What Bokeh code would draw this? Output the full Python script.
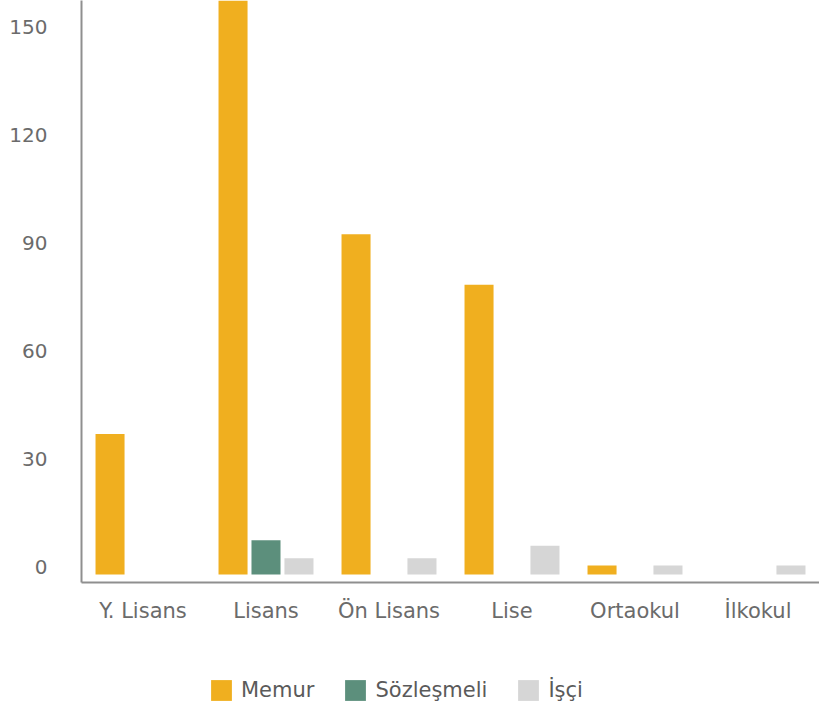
from bokeh.plotting import figure
from bokeh.layouts import column
from bokeh.models import (FactorRange, Range1d, FixedTicker, Legend, LegendItem,
                          ColumnDataSource)
from bokeh.transform import dodge
from bokeh.embed import file_html
from bokeh.resources import INLINE

categories = ["Y. Lisans", "Lisans", "Ön Lisans", "Lise", "Ortaokul", "İlkokul"]
memur = [39, 165, 94.5, 80.5, 2.5, 0]
sozlesmeli = [0, 9.5, 0, 0, 0, 0]
isci = [0, 4.5, 4.5, 8, 2.5, 2.5]
y_ticks = [0, 30, 60, 90, 120, 150]
series_names = ["Memur", "Sözleşmeli", "İşçi"]
colors = ["#F0AF1F", "#5C8F7C", "#D6D6D6"]

FONT = "DejaVu Sans"
TXT = "#6b6b6b"
LABEL_LIFT = 1.95  # tick labels sit slightly above their value, as in the reference

src = ColumnDataSource(dict(cat=categories, memur=memur, soz=sozlesmeli, isci=isci))

p = figure(width=819, height=640, output_backend="svg", toolbar_location=None,
           x_range=FactorRange(factors=categories),
           y_range=Range1d(-2.222, 159.44),
           min_border_left=81, min_border_right=0, min_border_top=0,
           min_border_bottom=58)
p.outline_line_color = None
p.xgrid.visible = False
p.ygrid.visible = False

bw = 0.236
off = 0.268
p.vbar(x=dodge("cat", -off, range=p.x_range), top="memur", width=bw,
       source=src, color=colors[0], line_color=None)
p.vbar(x=dodge("cat", 0, range=p.x_range), top="soz", width=bw,
       source=src, color=colors[1], line_color=None)
p.vbar(x=dodge("cat", off, range=p.x_range), top="isci", width=bw,
       source=src, color=colors[2], line_color=None)

tick_pos = [t + LABEL_LIFT for t in y_ticks]
p.yaxis.ticker = FixedTicker(ticks=tick_pos)
p.yaxis.major_label_overrides = {tp: str(t) for tp, t in zip(tick_pos, y_ticks)}
p.yaxis.major_tick_line_color = None
p.yaxis.minor_tick_line_color = None
p.yaxis.axis_line_color = "#8f8f8f"
p.yaxis.axis_line_width = 2
p.yaxis.major_label_standoff = 28
p.yaxis.major_label_text_font = FONT
p.yaxis.major_label_text_font_size = "20px"
p.yaxis.major_label_text_color = TXT

p.xaxis.major_tick_line_color = None
p.xaxis.minor_tick_line_color = None
p.xaxis.axis_line_color = "#8f8f8f"
p.xaxis.axis_line_width = 2
p.xaxis.major_label_standoff = 10
p.xaxis.major_label_text_font = FONT
p.xaxis.major_label_text_font_size = "21px"
p.xaxis.major_label_text_color = TXT

# legend strip below the chart (swatch renderers have zero-height bars only)
lg = figure(width=819, height=63, output_backend="svg", toolbar_location=None,
            x_range=Range1d(0, 1), y_range=Range1d(0, 1),
            x_axis_location=None, y_axis_location=None,
            min_border_left=0, min_border_right=0, min_border_top=0,
            min_border_bottom=0)
lg.outline_line_color = None
lg.xgrid.visible = False
lg.ygrid.visible = False
swatches = [lg.vbar(x=[0.5], top=[0], width=0.1, color=c, line_color=None) for c in colors]

legend = Legend(items=[LegendItem(label=n, renderers=[r]) for n, r in zip(series_names, swatches)],
                location=(127, 0), orientation="horizontal")
legend.border_line_color = None
legend.background_fill_alpha = 0
legend.padding = 0
legend.margin = 0
legend.spacing = 28
legend.glyph_width = 26
legend.glyph_height = 26
legend.label_standoff = 7
legend.label_text_font = FONT
legend.label_text_font_size = "21px"
legend.label_text_color = "#5a5a5a"
lg.add_layout(legend, "center")

open("out.html", "w").write(file_html(column(p, lg, spacing=0), INLINE))
